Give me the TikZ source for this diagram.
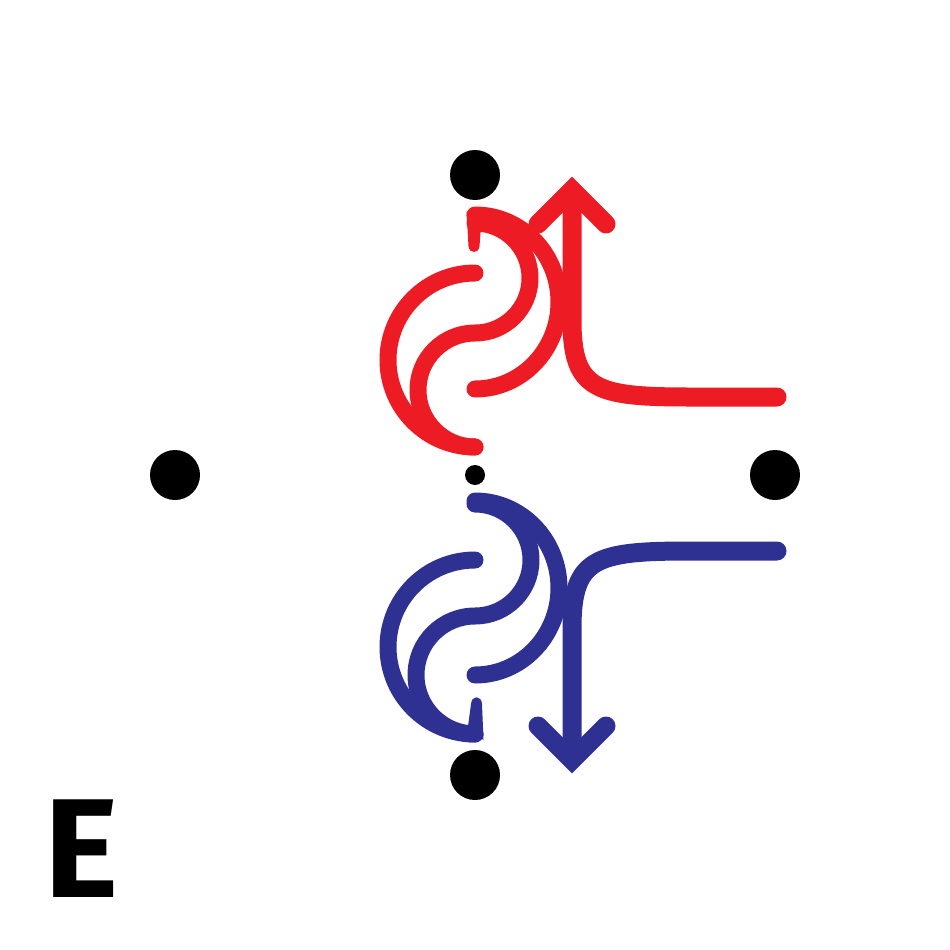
\documentclass[tikz,border=0pt]{standalone}
\usepackage{fontspec}
\setmainfont{Fira Sans}
\definecolor{myred}{HTML}{ED1C24}
\definecolor{myblue}{HTML}{2E3192}
\begin{document}
\begin{tikzpicture}[x=1pt,y=-1pt,
  dot/.style={circle,fill=black,inner sep=0pt,minimum size=50pt},
  smalldot/.style={circle,fill=black,inner sep=0pt,minimum size=20pt},
  curly/.style={line width=17pt,line cap=round,line join=round},
  bigarrow/.style={line width=19pt,line cap=round,line join=round},
  headstyle/.style={line width=19pt,line cap=round,line join=miter},
]
\useasboundingbox (0,0) rectangle (950,950);
% atoms
\node[dot] (top) at (475,175) {};
\node[dot] (left) at (175,475) {};
\node[dot] (right) at (775,475) {};
\node[dot] (bottom) at (475,775) {};
\node[smalldot] (mid) at (475,475) {};
% ---------- red ----------
\coordinate (rA) at (475,273);
\coordinate (rS) at (475,223);
\coordinate (rB) at (475,389);
\draw[curly,myred] (rA) arc[start angle=270,end angle=90,radius=87];
\draw[curly,myred] (rS) arc[start angle=-90,end angle=90,radius=55]
                        arc[start angle=270,end angle=90,radius=57];
\draw[curly,myred] (rB) arc[start angle=90,end angle=-90,x radius=84,y radius=87];
\fill[myred] (466.5,212) -- (468.5,246) .. controls (469,254) and (479,254) .. (479.5,246) -- (481.5,220) -- cycle;
% red arrow
\coordinate (rEnd) at (777,397);
\coordinate (rTip) at (572,190);
\draw[bigarrow,myred] (rEnd) -- (690,397) .. controls (595,397) and (572,390) .. (572,320) -- ([shift={(0,5)}]rTip);
\draw[headstyle,myred] ([shift={(-34,34)}]rTip) -- (rTip) -- ([shift={(34,34)}]rTip);
% ---------- blue ----------
\coordinate (bA) at (475,560);
\coordinate (bS) at (475,504);
\coordinate (bB) at (475,675);
\draw[curly,myblue] (bA) arc[start angle=270,end angle=90,radius=87];
\draw[curly,myblue] (bS) arc[start angle=-90,end angle=90,radius=56]
                        arc[start angle=270,end angle=90,radius=59];
\draw[curly,myblue] (bB) arc[start angle=90,end angle=-90,x radius=84,y radius=87];
\fill[myblue] (483.5,740) -- (482,704) .. controls (481.5,695) and (471.5,695) .. (471,704) -- (467.5,730) -- cycle;
% blue arrow
\coordinate (bEnd) at (777,551);
\coordinate (bTip) at (572,760);
\draw[bigarrow,myblue] (bEnd) -- (690,551) .. controls (595,551) and (572,558) .. (572,628) -- ([shift={(0,-5)}]bTip);
\draw[headstyle,myblue] ([shift={(-34,-34)}]bTip) -- (bTip) -- ([shift={(34,-34)}]bTip);
% label
\node[anchor=base west,inner sep=0pt,font=\fontsize{141}{141}\selectfont\bfseries] (lbl) at (44,897) {E};
\end{tikzpicture}
\end{document}
